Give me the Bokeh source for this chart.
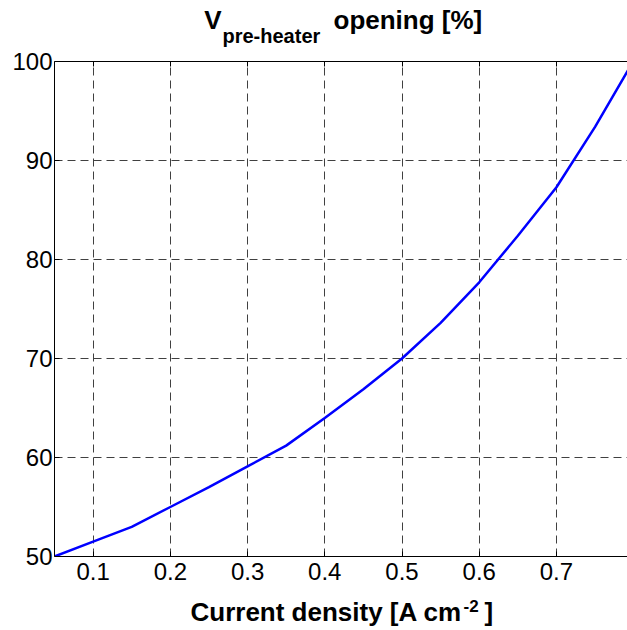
from bokeh.plotting import figure
from bokeh.models import Range1d, FixedTicker, LinearAxis, Label
from bokeh.layouts import column
from bokeh.embed import file_html
from bokeh.resources import INLINE

# ---- data ----
current_density = [0.05, 0.10, 0.15, 0.20, 0.25, 0.30, 0.35, 0.40,
                   0.45, 0.50, 0.55, 0.60, 0.65, 0.70, 0.75, 0.80]
valve_opening = [50.0, 51.5, 53.0, 55.0, 57.0, 59.1, 61.2, 64.0,
                 66.9, 70.0, 73.6, 77.7, 82.4, 87.3, 93.4, 100.1]
x_ticks = [0.1, 0.2, 0.3, 0.4, 0.5, 0.6, 0.7, 0.8]
y_ticks = [50, 60, 70, 80, 90, 100]

FONT = "Liberation Sans"
W = 627
LEFT = 54


def text_strip(height):
    # frame spans x = LEFT..W (pixel coordinates), y = 0..height (top-down)
    f = figure(width=W, height=height, output_backend="svg", toolbar_location=None,
               x_range=Range1d(LEFT, W), y_range=Range1d(height, 0),
               x_axis_type=None, y_axis_type=None, title_location=None,
               min_border_left=LEFT, min_border_right=0, min_border_top=0,
               min_border_bottom=0)
    f.outline_line_color = None
    f.grid.visible = False
    return f


def lbl(fig, x, baseline, text, size, align="left"):
    # empirical correction so that the glyph baseline lands at `baseline`
    y = baseline - 0.37 * size
    fig.add_layout(Label(x=x, y=y, text=text, text_align=align,
                         text_baseline="alphabetic", text_font=FONT,
                         text_font_style="bold", text_font_size=f"{size}px",
                         text_color="black"))


# ---- title strip: V_{pre-heater} opening [%] ----
title_fig = text_strip(48)
lbl(title_fig, 221, 29, "V", 26, align="right")
lbl(title_fig, 222, 42.5, "pre-heater", 20)
lbl(title_fig, 333, 29, "opening [%]", 26)

# ---- main plot ----
p = figure(width=W, height=544, output_backend="svg", toolbar_location=None,
           x_range=Range1d(0.05, 0.792), y_range=Range1d(50, 100),
           title_location=None,
           min_border_left=LEFT, min_border_right=0, min_border_top=13,
           min_border_bottom=36)
p.outline_line_color = None

for ax, ticks in ((p.xaxis, x_ticks), (p.yaxis, y_ticks)):
    ax.ticker = FixedTicker(ticks=ticks)
    ax.major_tick_in = 5
    ax.major_tick_out = 0
    ax.minor_tick_line_color = None
    ax.axis_line_color = "black"
    ax.major_tick_line_color = "black"
    ax.major_label_text_font = FONT
    ax.major_label_text_font_size = "24px"
    ax.major_label_text_color = "black"
p.xaxis.major_label_standoff = 6
p.yaxis.major_label_standoff = 2

top = LinearAxis(ticker=FixedTicker(ticks=x_ticks), major_tick_in=5, major_tick_out=0,
                 minor_tick_line_color=None, axis_line_color="black",
                 major_label_text_color=None, major_label_text_font_size="8px",
                 major_label_standoff=0)
p.add_layout(top, "above")

p.xgrid.ticker = FixedTicker(ticks=x_ticks)
p.ygrid.ticker = FixedTicker(ticks=y_ticks)
for g in (p.xgrid, p.ygrid):
    g.grid_line_color = "#404040"
    g.grid_line_dash = "8 5"
    g.grid_line_width = 1

p.line(current_density, valve_opening, line_color="#0000ff", line_width=2.5)

# ---- x label strip: Current density [A cm^-2] ----
xlab_fig = text_strip(38)
lbl(xlab_fig, 190, 29.5, "Current density [A cm", 26)
lbl(xlab_fig, 463, 19.5, "-2", 17)
lbl(xlab_fig, 484, 29.5, "]", 26)

layout = column(title_fig, p, xlab_fig, spacing=0)
open("out.html", "w").write(file_html(layout, INLINE))
